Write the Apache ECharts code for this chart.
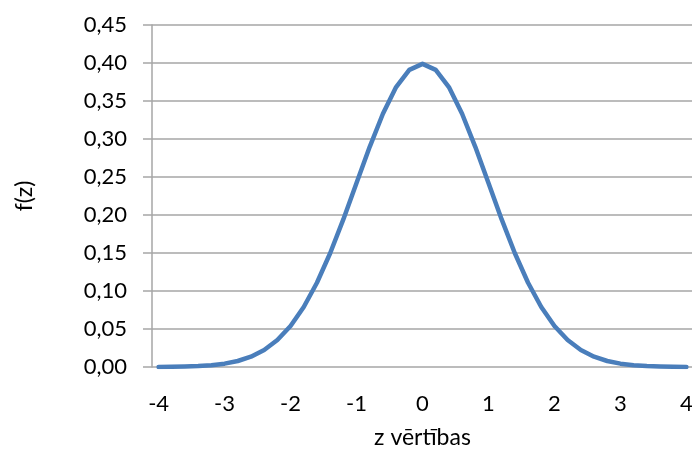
<!DOCTYPE html>
<html><head><meta charset="utf-8">
<script src="https://cdn.jsdelivr.net/npm/echarts@6/dist/echarts.min.js"></script>
<style>html,body{margin:0;padding:0;background:#fff}#c{width:692px;height:453px}</style>
</head><body><div id="c"></div>
<script>
const zValues = ['-4','-3.8','-3.6','-3.4','-3.2','-3','-2.8','-2.6','-2.4','-2.2','-2','-1.8','-1.6','-1.4','-1.2','-1','-0.8','-0.6','-0.4','-0.2','0','0.2','0.4','0.6','0.8','1','1.2','1.4','1.6','1.8','2','2.2','2.4','2.6','2.8','3','3.2','3.4','3.6','3.8','4'];
const fValues = [0.0001,0.0003,0.0006,0.0012,0.0024,0.0044,0.0079,0.0136,0.0224,0.0355,0.0540,0.0790,0.1109,0.1497,0.1942,0.2420,0.2897,0.3332,0.3683,0.3910,0.3989,0.3910,0.3683,0.3332,0.2897,0.2420,0.1942,0.1497,0.1109,0.0790,0.0540,0.0355,0.0224,0.0136,0.0079,0.0044,0.0024,0.0012,0.0006,0.0003,0.0001];
const yTicks = [0,0.05,0.10,0.15,0.20,0.25,0.30,0.35,0.40,0.45];
const xTitle = 'z vērtības';
const yTitle = 'f(z)';

const font = 'Lato, "Open Sans", sans-serif';
const fs = 22;
const chart = echarts.init(document.getElementById('c'));
chart.setOption({
  animation: false,
  grid: {left: 152, right: -1, top: 25, bottom: 86, containLabel: false, outerBoundsMode: 'none'},
  xAxis: {
    type: 'category', data: zValues, boundaryGap: true,
    name: xTitle, nameLocation: 'middle', nameGap: 59,
    nameTextStyle: {fontFamily: font, fontSize: 23, color: '#000'},
    axisLine: {show: false}, axisTick: {show: false},
    axisLabel: {interval: 4, margin: 26, fontFamily: font, fontSize: fs, color: '#000'},
    splitLine: {show: false}
  },
  yAxis: {
    type: 'value', min: 0, max: 0.45, interval: 0.05,
    name: yTitle, nameLocation: 'middle', nameGap: 116, nameRotate: 90,
    nameTextStyle: {fontFamily: font, fontSize: 23, color: '#000'},
    axisLine: {show: true, lineStyle: {color: '#a6a6a6', width: 1.5}},
    axisTick: {show: true, length: 9, inside: false, lineStyle: {color: '#a6a6a6', width: 1.5}},
    axisLabel: {margin: 25, fontFamily: font, fontSize: fs, color: '#000',
      formatter: v => yTicks.includes(Math.round(v*100)/100) ? v.toFixed(2).replace('.', ',') : ''},
    splitLine: {show: true, lineStyle: {color: '#a6a6a6', width: 1.5}}
  },
  series: [{
    type: 'line', data: fValues, showSymbol: false, smooth: false,
    lineStyle: {color: '#4a7ebb', width: 4.5, cap: 'round', join: 'round'}
  }]
});
</script></body></html>
